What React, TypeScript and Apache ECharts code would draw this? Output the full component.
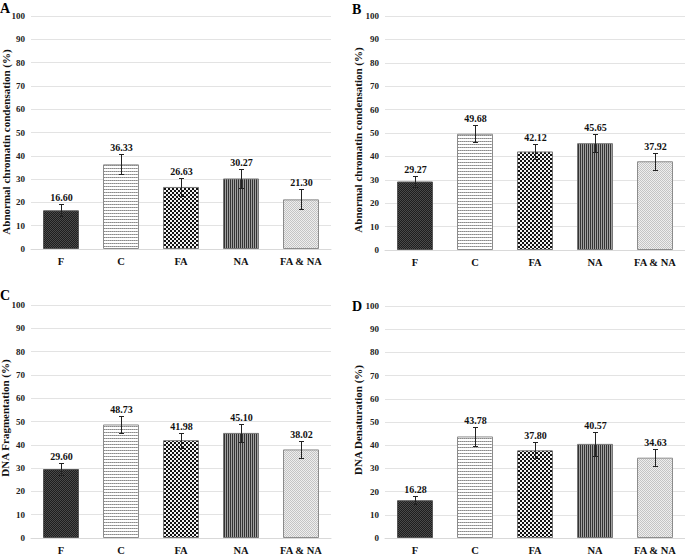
import React, { useEffect, useRef } from "react";
import * as echarts from "echarts";

const categories = ["F", "C", "FA", "NA", "FA & NA"];
const yTicks = [0, 10, 20, 30, 40, 50, 60, 70, 80, 90, 100];

const valuesA = [16.6, 36.33, 26.63, 30.27, 21.3];
const errorsA = [2.5, 4.3, 3.7, 3.9, 4.3];
const valuesB = [29.27, 49.68, 42.12, 45.65, 37.92];
const errorsB = [2.4, 3.7, 3.2, 3.9, 3.7];
const valuesC = [29.6, 48.73, 41.98, 45.1, 38.02];
const errorsC = [2.5, 3.8, 3.2, 3.9, 3.7];
const valuesD = [16.28, 43.78, 37.8, 40.57, 34.63];
const errorsD = [1.7, 4.2, 3.4, 5.3, 3.7];

const panelLetters = ["A", "B", "C", "D"];
const yTitles = [
  "Abnormal chromatin condensation (%)",
  "Abnormal chromatin condensation (%)",
  "DNA Fragmentation (%)",
  "DNA Denaturation (%)",
];

const FONT = "'Liberation Serif', 'Times New Roman', serif";

function makeCanvas(w: number, h: number, draw: (ctx: CanvasRenderingContext2D) => void) {
  const c = document.createElement("canvas");
  c.width = w;
  c.height = h;
  const ctx = c.getContext("2d")!;
  draw(ctx);
  return c;
}

function buildPatterns() {
  const pF = makeCanvas(2, 2, (ctx) => {
    ctx.fillStyle = "#1e1e1e";
    ctx.fillRect(0, 0, 2, 2);
    ctx.fillStyle = "#4a4a4a";
    ctx.fillRect(0, 0, 1, 1);
    ctx.fillRect(1, 1, 1, 1);
  });
  const pC = makeCanvas(2, 3, (ctx) => {
    ctx.fillStyle = "#ffffff";
    ctx.fillRect(0, 0, 2, 3);
    ctx.fillStyle = "#8a8a8a";
    ctx.fillRect(0, 0, 1, 1);
    ctx.fillStyle = "#b0b0b0";
    ctx.fillRect(1, 0, 1, 1);
  });
  const pFA = makeCanvas(4, 4, (ctx) => {
    ctx.fillStyle = "#f2f2f2";
    ctx.fillRect(0, 0, 4, 4);
    ctx.fillStyle = "#111111";
    ctx.fillRect(0, 0, 2, 2);
    ctx.fillRect(2, 2, 2, 2);
  });
  const pNA = makeCanvas(2, 1, (ctx) => {
    ctx.fillStyle = "#333333";
    ctx.fillRect(0, 0, 1, 1);
    ctx.fillStyle = "#a0a0a0";
    ctx.fillRect(1, 0, 1, 1);
  });
  const pFN = makeCanvas(2, 2, (ctx) => {
    ctx.fillStyle = "#eeeeee";
    ctx.fillRect(0, 0, 2, 2);
    ctx.fillStyle = "#c4c4c4";
    ctx.fillRect(0, 0, 1, 1);
    ctx.fillRect(1, 1, 1, 1);
  });
  return [pF, pC, pFA, pNA, pFN];
}

const grids = [
  { left: 31, top: 16, width: 300, height: 233 },
  { left: 385, top: 16, width: 300, height: 234 },
  { left: 31, top: 305, width: 300, height: 233 },
  { left: 385, top: 306, width: 300, height: 233 },
];

export default function App() {
  const ref = useRef<HTMLDivElement>(null);

  useEffect(() => {
    if (!ref.current) return;
    const chart = echarts.init(ref.current, null, { renderer: "svg" });
    const patterns = buildPatterns();
    const borders = ["#555555", "#8c8c8c", "#777777", "#777777", "#8c8c8c"];
    const allValues = [valuesA, valuesB, valuesC, valuesD];
    const allErrors = [errorsA, errorsB, errorsC, errorsD];

    const xAxes: any[] = [];
    const yAxes: any[] = [];
    const series: any[] = [];

    grids.forEach((g, gi) => {
      xAxes.push({
        gridIndex: gi,
        type: "category",
        data: categories,
        axisTick: { show: false },
        axisLine: { show: true, lineStyle: { color: "#d9d9d9", width: 1 } },
        axisLabel: {
          color: "#111",
          fontFamily: FONT,
          fontWeight: "bold",
          fontSize: 10.5,
          margin: 7,
        },
      });
      yAxes.push({
        gridIndex: gi,
        type: "value",
        min: yTicks[0],
        max: yTicks[yTicks.length - 1],
        interval: yTicks[1] - yTicks[0],
        axisLine: { show: false },
        axisTick: { show: false },
        splitLine: { show: true, lineStyle: { color: "#e3e3e3", width: 1 } },
        axisLabel: {
          color: "#222",
          fontFamily: FONT,
          fontWeight: "bold",
          fontSize: 9,
          margin: 6,
        },
      });
      series.push({
        type: "bar",
        xAxisIndex: gi,
        yAxisIndex: gi,
        barWidth: "60%",
        data: allValues[gi].map((v, i) => ({
          value: v,
          itemStyle: {
            color: { image: patterns[i], repeat: "repeat" },
            borderColor: borders[i],
            borderWidth: 1,
          },
        })),
      });
      series.push({
        type: "custom",
        xAxisIndex: gi,
        yAxisIndex: gi,
        encode: { x: 0, y: 1 },
        data: allValues[gi].map((v, i) => [i, v, allErrors[gi][i]]),
        z: 10,
        renderItem: (params: any, api: any) => {
          const idx = api.value(0);
          const v = api.value(1);
          const e = api.value(2);
          const top = api.coord([idx, v + e]);
          const bot = api.coord([idx, v - e]);
          const cx = Math.round(top[0]) + 0.5;
          const ty = Math.round(top[1]) + 0.5;
          const by = Math.round(bot[1]) + 0.5;
          const ls = { stroke: "#222", lineWidth: 1 };
          return {
            type: "group",
            children: [
              { type: "line", shape: { x1: cx, y1: ty, x2: cx, y2: by }, style: ls },
              { type: "line", shape: { x1: cx - 2.5, y1: ty, x2: cx + 2.5, y2: ty }, style: ls },
              { type: "line", shape: { x1: cx - 2.5, y1: by, x2: cx + 2.5, y2: by }, style: ls },
              {
                type: "text",
                x: cx,
                y: ty - 2,
                style: {
                  text: v.toFixed(2),
                  fill: "#111",
                  font: `bold 10px ${FONT}`,
                  align: "center",
                  verticalAlign: "bottom",
                },
              },
            ],
          };
        },
      });
    });

    const letterPos = [
      { x: 0, y: 1 },
      { x: 352, y: 2 },
      { x: 0, y: 288 },
      { x: 352, y: 299 },
    ];
    const titlePos = [
      { x: 6, y: 142 },
      { x: 358, y: 140 },
      { x: 5, y: 418 },
      { x: 358, y: 420 },
    ];
    const graphic: any[] = [];
    panelLetters.forEach((l, i) => {
      graphic.push({
        type: "text",
        x: letterPos[i].x,
        y: letterPos[i].y,
        style: { text: l, fill: "#000", font: `bold 14px ${FONT}`, align: "left", verticalAlign: "top" },
      });
      graphic.push({
        type: "text",
        x: titlePos[i].x,
        y: titlePos[i].y,
        rotation: Math.PI / 2,
        style: {
          text: yTitles[i],
          fill: "#111",
          font: `bold 11px ${FONT}`,
          align: "center",
          verticalAlign: "middle",
        },
      });
    });

    chart.setOption({
      animation: false,
      backgroundColor: "#ffffff",
      grid: grids.map((g) => ({ ...g, containLabel: false })),
      xAxis: xAxes,
      yAxis: yAxes,
      series,
      graphic,
    });

    return () => chart.dispose();
  }, []);

  return (
    <div
      ref={ref}
      style={{ position: "fixed", left: 0, top: 0, width: 685, height: 556, background: "#fff" }}
    />
  );
}
